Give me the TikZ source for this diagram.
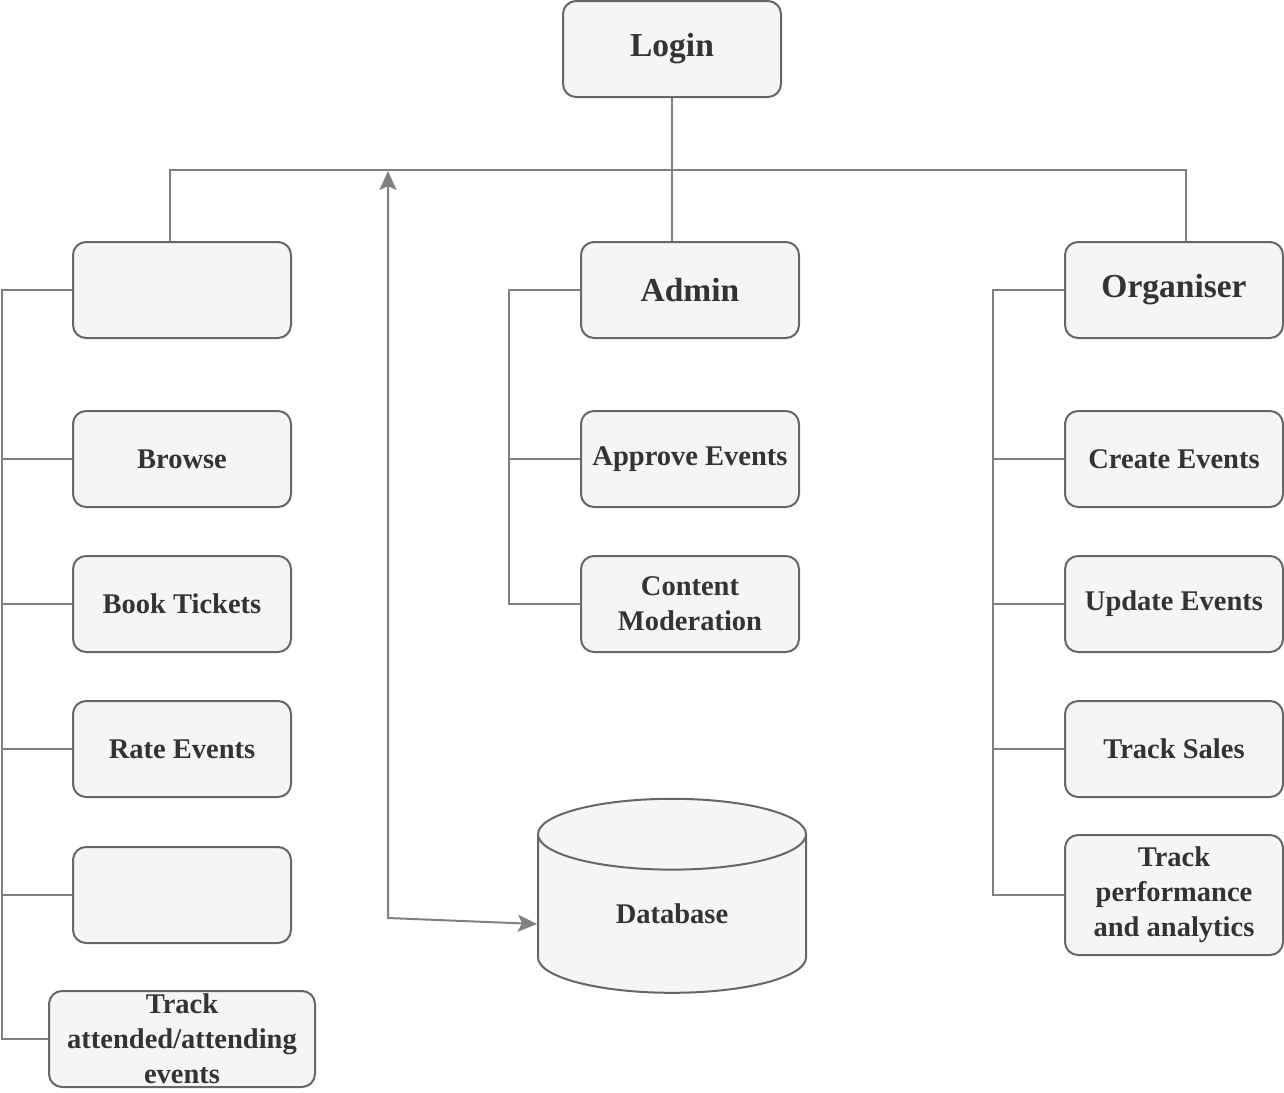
\documentclass[tikz,border=0pt]{standalone}
\usepackage{fontspec}
\setmainfont{Liberation Serif}
\usetikzlibrary{shapes.geometric,arrows.meta}
\definecolor{boxfill}{HTML}{F5F5F5}
\definecolor{boxline}{HTML}{666666}
\definecolor{linegray}{HTML}{808080}
\definecolor{ink}{HTML}{333333}

\def\unit{1pt}

\begin{document}
\begin{tikzpicture}[%
	x=\unit, y=-\unit,%
	item/.style={draw=boxline, fill=boxfill, line width=2pt, rounded corners=13pt, minimum width=218pt, minimum height=96pt, inner sep=0pt, align=center, text=ink, font=\fontsize{28.5}{35}\selectfont\bfseries},%
	head/.style={item, font=\fontsize{33.5}{40}\selectfont\bfseries},%
	store/.style={cylinder, shape border rotate=90, aspect=0.63, draw=boxline, fill=boxfill, line width=2pt, minimum width=268pt, minimum height=194pt, inner sep=0pt, text=ink, font=\fontsize{28.5}{35}\selectfont\bfseries},%
	link/.style={draw=linegray, line width=2pt},%
	tip/.tip={Stealth[length=19pt,width=17pt,inset=4pt]},%
	]
\useasboundingbox (0,0) rectangle (1284,1092);
%%% boxes
	\node [head] (login) at (672,49) {Login};
	%
	\node [head] (user) at (182,290) {};
	\node [item] (browse) at (182,459) {Browse};
	\node [item] (book) at (182,604) {Book Tickets};
	\node [item] (rate) at (182,749) {Rate Events};
	\node [item] (blank) at (182,895) {};
	\node [item, minimum width=266pt] (track) at (182,1039) {Track\\attended/attending\\events};
	%
	\node [head] (admin) at (690,290) {Admin};
	\node [item] (approve) at (690,459) {Approve Events};
	\node [item] (moderate) at (690,604) {Content\\Moderation};
	%
	\node [head] (organiser) at (1174,290) {Organiser};
	\node [item] (create) at (1174,459) {Create Events};
	\node [item] (update) at (1174,604) {Update Events};
	\node [item] (sales) at (1174,749) {Track Sales};
	\node [item, minimum height=120pt] (analytics) at (1174,895) {Track\\performance\\and analytics};
	%
	\node [store] (db) at (672,914) {Database};
%%% boxes
%%% links
	\coordinate (bus) at (671,170);
	\draw [link] (login.south) -- (login.south |- admin.north);
	\draw [link] ([xshift=-12pt]user.north) |- (bus) -| ([xshift=12pt]organiser.north);
	%
	\coordinate (lbus) at (2,290);
	\draw [link] (user.west) -- (lbus) |- (track.west);
	\foreach \n in {browse,book,rate,blank}
		{\draw [link] (\n.west) -- (\n.west -| lbus);}
	%
	\coordinate (abus) at (509,290);
	\draw [link] (admin.west) -- (abus) |- (moderate.west);
	\draw [link] (approve.west) -- (approve.west -| abus);
	%
	\coordinate (obus) at (993,290);
	\draw [link] (organiser.west) -- (obus) |- (analytics.west);
	\foreach \n in {create,update,sales}
		{\draw [link] (\n.west) -- (\n.west -| obus);}
	%
	\coordinate (tap) at (388,171);
	\coordinate (bend) at (388,918);
	\draw [link, tip-tip] (tap) -- (bend) -- ([yshift=-6pt]bend -| db.west);
%%% links
\end{tikzpicture}
\end{document}
